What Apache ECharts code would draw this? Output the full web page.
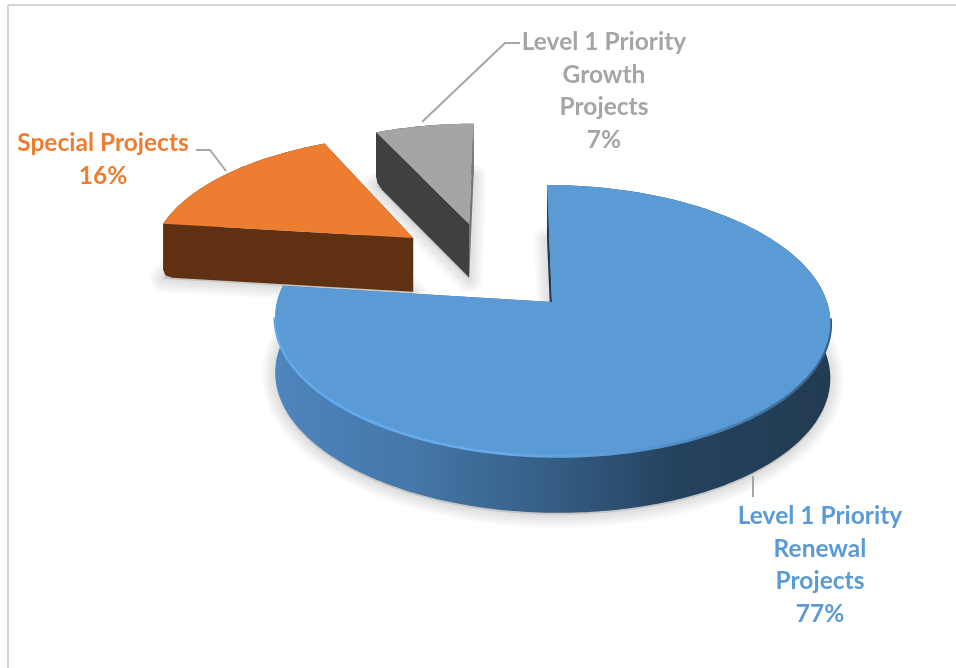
<!DOCTYPE html>
<html>
<head>
<meta charset="utf-8">
<style>html,body{margin:0;padding:0;background:#fff}#chart{width:956px;height:668px}</style>
<script src="https://cdn.jsdelivr.net/npm/echarts@6/dist/echarts.min.js"></script>
</head>
<body>
<div id="chart"></div>
<script>
// Project budget split
const categories = ['Level 1 Priority Renewal Projects', 'Special Projects', 'Level 1 Priority Growth Projects'];
const values = [77, 16, 7];
const labelLines = [
  ['Level 1 Priority', 'Renewal', 'Projects'],
  ['Special Projects'],
  ['Level 1 Priority', 'Growth', 'Projects']
];
const topColors = ['#5b9bd5', '#ed7d31', '#a5a5a5'];
const labelColors = ['#5b9bd5', '#ed7d31', '#a5a5a5'];

// Back-to-front paint order: the large slice overlaps the other two
const paintOrder = [1, 2, 0];

// Perspective tilted-disc layout
const view = { cx: 552, cy: 302, a: 275, b: 132.6, persp: 0.1334, skew: 0.043, depth: 55 };
const slideOut = [[0, 0], [-0.529, -0.516], [-0.3135, -0.638]];
const wallStyles = [
  { start: '#1f3a55', end: '#3a6a9a', rim: null },
  { start: '#5f3112', end: '#5f3112', rim: '#5f3112' },
  { start: '#404040', end: '#767676', rim: '#404040' }
];
const labelPlaces = [
  { x: 820, y: 500 },
  { x: 103, y: 127 },
  { x: 604, y: 26 }
];
const leaders = [
  [[753, 476], [753, 497]],
  [[196, 150], [210, 150], [226, 171]],
  [[520, 43], [505, 43], [422, 122]]
];
const haloWidths = [26, 21, 16, 11, 6];

const total = values.reduce((s, v) => s + v, 0);

function sliceAngles(i) {
  let before = 0;
  for (let k = 0; k < i; k++) before += values[k];
  return [before / total * 2 * Math.PI, (before + values[i]) / total * 2 * Math.PI];
}

// Disc coordinates to screen; lower=true gives the underside of the disc
function project(u, v, lower) {
  const w = 1 / (1 - view.persp * v);
  const dy = view.b * v * w;
  const drop = lower ? view.depth * Math.pow(w, 0.35) : 0;
  return [view.cx + view.a * u * w + view.skew * dy, view.cy + dy + drop];
}

function slicePoints(i) {
  const [a0, a1] = sliceAngles(i);
  const [ou, ov] = slideOut[i];
  const steps = Math.max(8, Math.round((a1 - a0) * 60));
  const angles = [];
  for (let s = 0; s <= steps; s++) angles.push(a0 + (a1 - a0) * s / steps);
  const rim = lower => angles.map(t => project(ou + Math.sin(t), ov - Math.cos(t), lower));
  return { apexTop: project(ou, ov, false), apexLow: project(ou, ov, true), rimTop: rim(false), rimLow: rim(true), angles };
}

// Soft contact shadow: stacked translucent outlines around the disc's underside
function renderShadow(params, api) {
  const i = api.value(0);
  const p = slicePoints(i);
  const points = [p.apexLow].concat(p.rimLow).map(q => [q[0], q[1] + 2]);
  return {
    type: 'group',
    children: haloWidths.map(width => ({
      type: 'polygon',
      shape: { points },
      style: { fill: 'rgba(0,0,0,0.025)', stroke: 'rgba(0,0,0,0.022)', lineWidth: width, lineJoin: 'round' }
    }))
  };
}

// Rounded lower corner where the rim meets the cut face
function softCorner(corner, above, toward) {
  const along = (a, b, d) => {
    const len = Math.hypot(b[0] - a[0], b[1] - a[1]) || 1;
    return [a[0] + (b[0] - a[0]) / len * d, a[1] + (b[1] - a[1]) / len * d];
  };
  return [along(corner, above, 7), along(along(corner, above, 2), toward, 2), along(corner, toward, 9)];
}

function renderSlice(params, api) {
  const i = api.value(0);
  const p = slicePoints(i);
  const children = [];
  const isMain = i === 0;
  const last = p.rimTop.length - 1;
  const corner = softCorner(p.rimLow[0], p.rimTop[0], p.apexLow);
  const bandFill = isMain
    ? new echarts.graphic.LinearGradient(0, 0, 1, 0, [
        { offset: 0, color: '#4d85bd' },
        { offset: 0.25, color: '#4577a8' },
        { offset: 0.5, color: '#355d85' },
        { offset: 0.72, color: '#25425d' },
        { offset: 1, color: '#223b52' }
      ])
    : wallStyles[i].rim;

  // Outer rim wall
  const lowRim = isMain ? p.rimLow : p.rimLow.slice(2);
  children.push({
    type: 'polygon',
    shape: { points: p.rimTop.concat(lowRim.slice().reverse()).concat(isMain ? [] : [corner[0]]) },
    style: { fill: bandFill }
  });
  // Cut faces running from the apex to both ends of the rim
  children.push({
    type: 'polygon',
    shape: { points: [p.apexTop, p.rimTop[last], p.rimLow[last], p.apexLow] },
    style: { fill: wallStyles[i].end }
  });
  children.push({
    type: 'polygon',
    shape: { points: isMain
      ? [p.apexTop, p.rimTop[0], p.rimLow[0], p.apexLow]
      : [p.apexTop, p.rimTop[0]].concat(corner).concat([p.apexLow]) },
    style: { fill: wallStyles[i].start }
  });
  if (isMain) {
    // Bevelled highlight along the near edge of the top face
    const near = p.rimTop.filter((q, k) => Math.cos(p.angles[k]) < -0.1).map(q => [q[0], q[1] + 1]);
    children.push({
      type: 'polyline',
      shape: { points: near },
      style: {
        fill: null,
        lineWidth: 3.5,
        stroke: new echarts.graphic.LinearGradient(0, 0, 1, 0, [
          { offset: 0, color: '#66aaee' },
          { offset: 0.4, color: '#66aaee' },
          { offset: 0.62, color: '#5b9bd5' },
          { offset: 0.85, color: '#467aa9' },
          { offset: 1, color: '#345c82' }
        ])
      }
    });
  }
  // Top face
  children.push({
    type: 'polygon',
    shape: { points: [p.apexTop].concat(p.rimTop) },
    style: { fill: topColors[i] }
  });
  return { type: 'group', children };
}

function renderLabel(params, api) {
  const i = api.value(0);
  const place = labelPlaces[i];
  return {
    type: 'group',
    children: [
      {
        type: 'polyline',
        shape: { points: leaders[i] },
        style: { fill: null, stroke: '#a6a6a6', lineWidth: 2 }
      },
      {
        type: 'text',
        style: {
          x: place.x,
          y: place.y,
          text: labelLines[i].concat(values[i] + '%').join('\n'),
          fill: labelColors[i],
          font: 'bold 24.5px Lato',
          lineHeight: 32.6,
          align: 'center',
          verticalAlign: 'top'
        }
      }
    ]
  };
}

const items = paintOrder.map(i => ({ name: categories[i], value: [i, values[i]] }));

const chart = echarts.init(document.getElementById('chart'), null, { renderer: 'canvas' });
chart.setOption({
  animation: false,
  backgroundColor: '#ffffff',
  graphic: [
    { type: 'line', silent: true, shape: { x1: 8, y1: 5, x2: 956, y2: 5 }, style: { stroke: '#d4d4d4', lineWidth: 2 } },
    { type: 'line', silent: true, shape: { x1: 8, y1: 5, x2: 8, y2: 668 }, style: { stroke: '#d4d4d4', lineWidth: 2 } }
  ],
  series: [
    { type: 'custom', coordinateSystem: 'none', z: 1, silent: true, renderItem: renderShadow, data: items },
    { type: 'custom', coordinateSystem: 'none', z: 2, silent: true, renderItem: renderSlice, data: items },
    { type: 'custom', coordinateSystem: 'none', z: 3, silent: true, renderItem: renderLabel, data: items }
  ]
});
</script>
</body>
</html>
